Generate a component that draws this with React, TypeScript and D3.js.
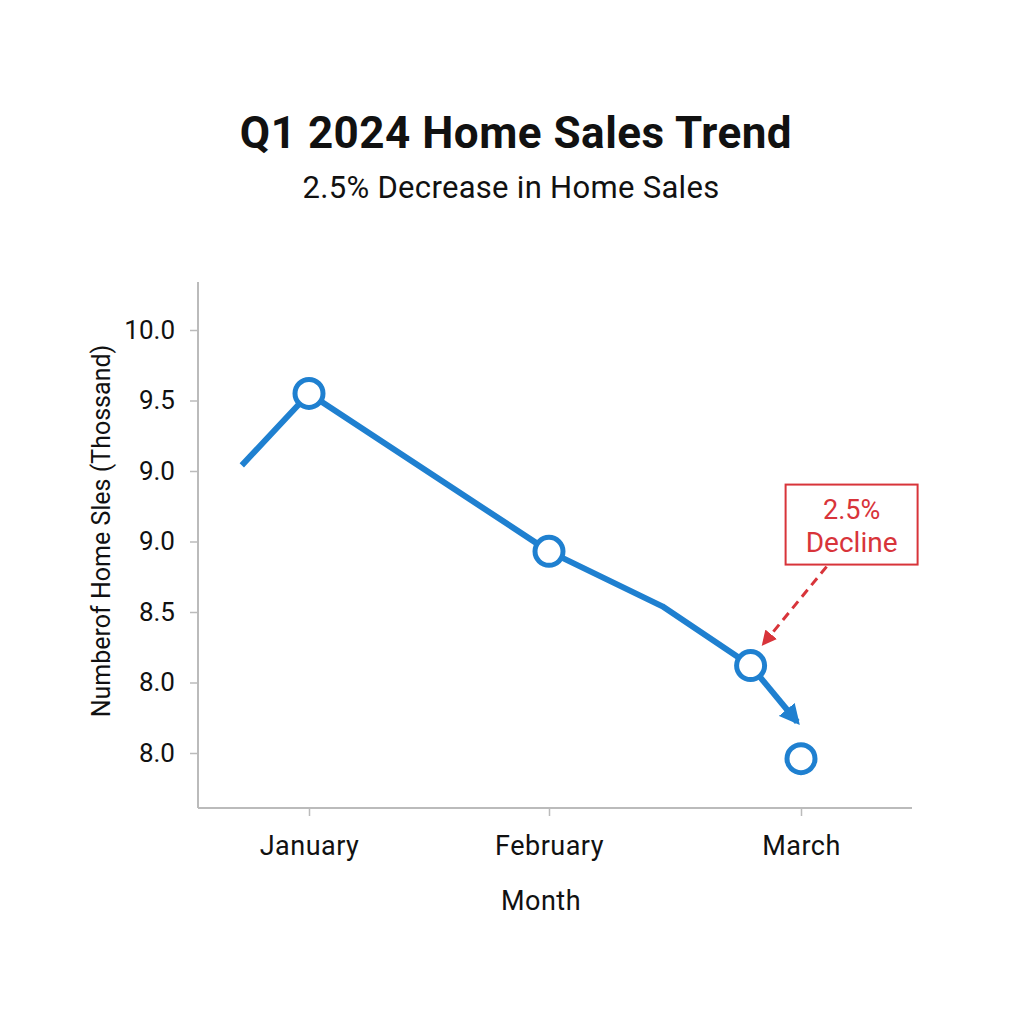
import React, { useEffect, useRef } from 'react';
import * as d3 from 'd3';

// month index: 0 = January, 1 = February, 2 = March
const monthLabels = ['January', 'February', 'March'];
const monthTicks = [0, 1, 2];

// y tick positions and the labels printed at them
const yTickValues = [10.0, 9.5, 9.0, 8.5, 8.0, 7.5, 7.0];
const yTickLabels = ['10.0', '9.5', '9.0', '9.0', '8.5', '8.0', '8.0'];

// trend line (thousand home sales)
const lineMonths = [-0.28, 0, 1, 1.45, 1.8];
const lineValues = [9.04, 9.55, 8.43, 8.04, 7.62];

// circled points
const pointMonths = [0, 1, 1.8, 2];
const pointValues = [9.55, 8.43, 7.62, 6.96];

// arrow from March point downwards
const arrowMonths = [1.8, 1.985];
const arrowValues = [7.62, 7.22];

const BLUE = '#1f80d0';
const RED = '#d8343a';

export default function App() {
  const svgRef = useRef<SVGSVGElement>(null);

  useEffect(() => {
    if (!svgRef.current) return;
    const svg = d3.select(svgRef.current);
    svg.selectAll('*').remove();

    const width = 1024;
    const height = 1024;
    const axisLeftX = 198;
    const axisRightX = 912;
    const axisTopY = 282;
    const axisBottomY = 808;

    const x = d3.scaleLinear().domain([0, 1, 2]).range([309, 549, 801]);
    const y = d3.scaleLinear().domain([10, 7]).range([330, 753]);

    svg.append('rect').attr('width', width).attr('height', height).attr('fill', '#ffffff');

    const font = 'Roboto, "Open Sans", sans-serif';

    // Title
    svg.append('text')
      .attr('x', 516)
      .attr('y', 148)
      .attr('text-anchor', 'middle')
      .style('font-family', font)
      .style('font-size', '44px')
      .style('font-weight', 700)
      .style('letter-spacing', '0.5px')
      .attr('fill', '#111')
      .text('Q1 2024 Home Sales Trend');

    svg.append('text')
      .attr('x', 511)
      .attr('y', 198)
      .attr('text-anchor', 'middle')
      .style('font-family', font)
      .style('font-size', '31px')
      .style('letter-spacing', '0.3px')
      .attr('fill', '#111')
      .text('2.5% Decrease in Home Sales');

    // Y axis
    const yAxis = d3.axisLeft(y)
      .tickValues(yTickValues)
      .tickSize(8)
      .tickPadding(15)
      .tickFormat((_, i) => yTickLabels[i]);

    const gy = svg.append('g')
      .attr('transform', `translate(${axisLeftX},0)`)
      .call(yAxis);
    gy.select('.domain').remove();
    gy.selectAll('.tick line').attr('stroke', '#bbbbbb').attr('stroke-width', 1.5);
    gy.selectAll('.tick text')
      .attr('fill', '#111')
      .style('font-family', font)
      .style('font-size', '26px');
    svg.append('line')
      .attr('x1', axisLeftX).attr('x2', axisLeftX)
      .attr('y1', axisTopY).attr('y2', axisBottomY)
      .attr('stroke', '#bbbbbb').attr('stroke-width', 2);

    // X axis
    const xAxis = d3.axisBottom(x)
      .tickValues(monthTicks)
      .tickSize(8)
      .tickPadding(20)
      .tickFormat((_, i) => monthLabels[i]);

    const gx = svg.append('g')
      .attr('transform', `translate(0,${axisBottomY})`)
      .call(xAxis);
    gx.select('.domain').remove();
    gx.selectAll('.tick line').attr('stroke', '#bbbbbb').attr('stroke-width', 1.5);
    gx.selectAll('.tick text')
      .attr('fill', '#111')
      .style('font-family', font)
      .style('font-size', '27px')
      .style('letter-spacing', '0.5px');
    svg.append('line')
      .attr('x1', axisLeftX).attr('x2', axisRightX)
      .attr('y1', axisBottomY).attr('y2', axisBottomY)
      .attr('stroke', '#bbbbbb').attr('stroke-width', 2);

    // axis titles
    svg.append('text')
      .attr('x', 541)
      .attr('y', 910)
      .attr('text-anchor', 'middle')
      .style('font-family', font)
      .style('font-size', '27px')
      .style('letter-spacing', '0.5px')
      .attr('fill', '#111')
      .text('Month');

    svg.append('text')
      .attr('transform', `translate(110,531) rotate(-90)`)
      .attr('text-anchor', 'middle')
      .style('font-family', font)
      .style('font-size', '25px')
      .attr('fill', '#111')
      .text('Numberof Home Sles (Thossand)');

    // markers
    const defs = svg.append('defs');
    defs.append('marker')
      .attr('id', 'blueHead')
      .attr('viewBox', '0 0 10 10')
      .attr('refX', 8)
      .attr('refY', 5)
      .attr('markerWidth', 3.4)
      .attr('markerHeight', 3.4)
      .attr('markerUnits', 'strokeWidth')
      .attr('orient', 'auto')
      .append('path')
      .attr('d', 'M0,0 L10,5 L0,10 Z')
      .attr('fill', BLUE);
    defs.append('marker')
      .attr('id', 'redHead')
      .attr('viewBox', '0 0 10 10')
      .attr('refX', 8)
      .attr('refY', 5)
      .attr('markerWidth', 5)
      .attr('markerHeight', 5)
      .attr('markerUnits', 'strokeWidth')
      .attr('orient', 'auto')
      .append('path')
      .attr('d', 'M0,0 L10,5 L0,10 Z')
      .attr('fill', RED);

    // trend line
    const line = d3.line<number>()
      .x((_, i) => x(lineMonths[i]))
      .y(d => y(d));

    svg.append('path')
      .datum(lineValues)
      .attr('d', line)
      .attr('fill', 'none')
      .attr('stroke', BLUE)
      .attr('stroke-width', 6)
      .attr('stroke-linejoin', 'round');

    // arrow to the final point
    svg.append('line')
      .attr('x1', x(arrowMonths[0]))
      .attr('y1', y(arrowValues[0]))
      .attr('x2', x(arrowMonths[1]))
      .attr('y2', y(arrowValues[1]))
      .attr('stroke', BLUE)
      .attr('stroke-width', 6)
      .attr('marker-end', 'url(#blueHead)');

    // circles
    svg.selectAll('.pt')
      .data(pointValues)
      .enter()
      .append('circle')
      .attr('class', 'pt')
      .attr('cx', (_, i) => x(pointMonths[i]))
      .attr('cy', d => y(d))
      .attr('r', 14)
      .attr('fill', '#ffffff')
      .attr('stroke', BLUE)
      .attr('stroke-width', 5);

    // annotation
    const marX = x(pointMonths[2]);
    const marY = y(pointValues[2]);
    const boxX = marX + 35;
    const boxY = marY - 181;
    const boxW = 132;
    const boxH = 80;

    svg.append('line')
      .attr('x1', boxX + 41)
      .attr('y1', boxY + 82)
      .attr('x2', marX + 13)
      .attr('y2', marY - 22)
      .attr('stroke', RED)
      .attr('stroke-width', 3)
      .attr('stroke-dasharray', '9 6')
      .attr('marker-end', 'url(#redHead)');

    svg.append('rect')
      .attr('x', boxX)
      .attr('y', boxY)
      .attr('width', boxW)
      .attr('height', boxH)
      .attr('fill', '#ffffff')
      .attr('stroke', RED)
      .attr('stroke-width', 2);

    svg.append('text')
      .attr('x', boxX + boxW / 2)
      .attr('y', boxY + 34)
      .attr('text-anchor', 'middle')
      .style('font-family', font)
      .style('font-size', '27px')
      .attr('fill', RED)
      .text('2.5%');
    svg.append('text')
      .attr('x', boxX + boxW / 2)
      .attr('y', boxY + 67)
      .attr('text-anchor', 'middle')
      .style('font-family', font)
      .style('font-size', '28px')
      .attr('fill', RED)
      .text('Decline');
  }, []);

  return (
    <svg
      ref={svgRef}
      width={1024}
      height={1024}
      style={{ position: 'absolute', left: 0, top: 0, display: 'block' }}
    />
  );
}
